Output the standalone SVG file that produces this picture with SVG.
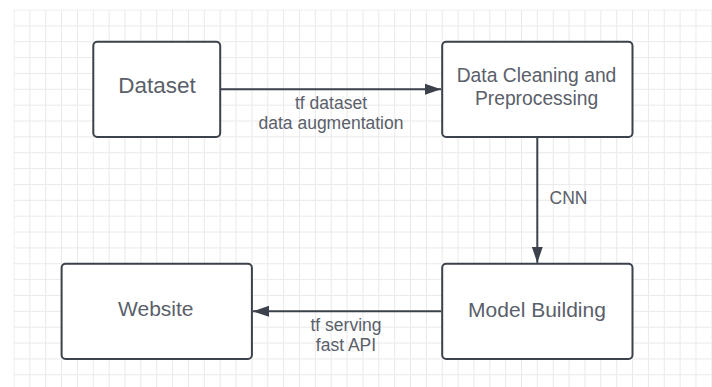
<svg xmlns="http://www.w3.org/2000/svg" width="712" height="387" viewBox="0 0 712 387">
  <style>
    .node rect { fill: #ffffff; stroke: #3b424b; stroke-width: 2; }
    .node text { font-family: "Liberation Sans", Arial, sans-serif; fill: #5a606a; text-anchor: middle; }
    .conn line { stroke: #3b424b; stroke-width: 2; }
    .lbl { font-family: "Liberation Sans", Arial, sans-serif; font-size: 17.5px; fill: #5a606a; text-anchor: middle; }
  </style>
  <defs>
    <pattern id="grid" x="13.5" y="9.5" width="15.86" height="15.86" patternUnits="userSpaceOnUse">
      <path d="M0.5 0.5H15.86M0.5 0.5V15.86" fill="none" stroke="#e9e9e9" stroke-width="1"/>
    </pattern>
    <marker id="arr" markerUnits="userSpaceOnUse" markerWidth="17" markerHeight="12" refX="16" refY="6" orient="auto">
      <path d="M0 0.5L16 6L0 11.5Z" fill="#3b424b"/>
    </marker>
  </defs>
  <rect width="712" height="387" fill="#ffffff"/>
  <rect x="13.5" y="9.5" width="698.5" height="377.5" fill="url(#grid)"/>

  <g id="connectors" class="conn">
    <line x1="221" y1="89.3" x2="441" y2="89.3" marker-end="url(#arr)"/>
    <line x1="537.3" y1="138" x2="537.3" y2="262.8" marker-end="url(#arr)"/>
    <line x1="441" y1="311.3" x2="253" y2="311.3" marker-end="url(#arr)"/>
  </g>
  <g id="labels">
    <text class="lbl" x="331" y="109">tf dataset</text>
    <text class="lbl" x="331" y="129">data augmentation</text>
    <text class="lbl" x="568.5" y="204.3">CNN</text>
    <text class="lbl" x="346" y="331">tf serving</text>
    <text class="lbl" x="346" y="351">fast API</text>
  </g>

  <g id="node-dataset" class="node">
    <rect x="93.3" y="41.7" width="126.9" height="95.2" rx="4"/>
    <text x="157" y="93.3" font-size="22.5">Dataset</text>
  </g>
  <g id="node-cleaning" class="node">
    <rect x="442.2" y="41.7" width="190.3" height="95.2" rx="4"/>
    <text x="536.5" y="82.3" font-size="19.3">Data Cleaning and</text>
    <text x="536.5" y="105" font-size="19.3">Preprocessing</text>
  </g>
  <g id="node-model" class="node">
    <rect x="442.2" y="263.8" width="190.3" height="95.1" rx="4"/>
    <text x="537" y="316.7" font-size="21">Model Building</text>
  </g>
  <g id="node-website" class="node">
    <rect x="61.6" y="263.8" width="190.3" height="95.1" rx="4"/>
    <text x="155.8" y="315.7" font-size="21">Website</text>
  </g>
</svg>
